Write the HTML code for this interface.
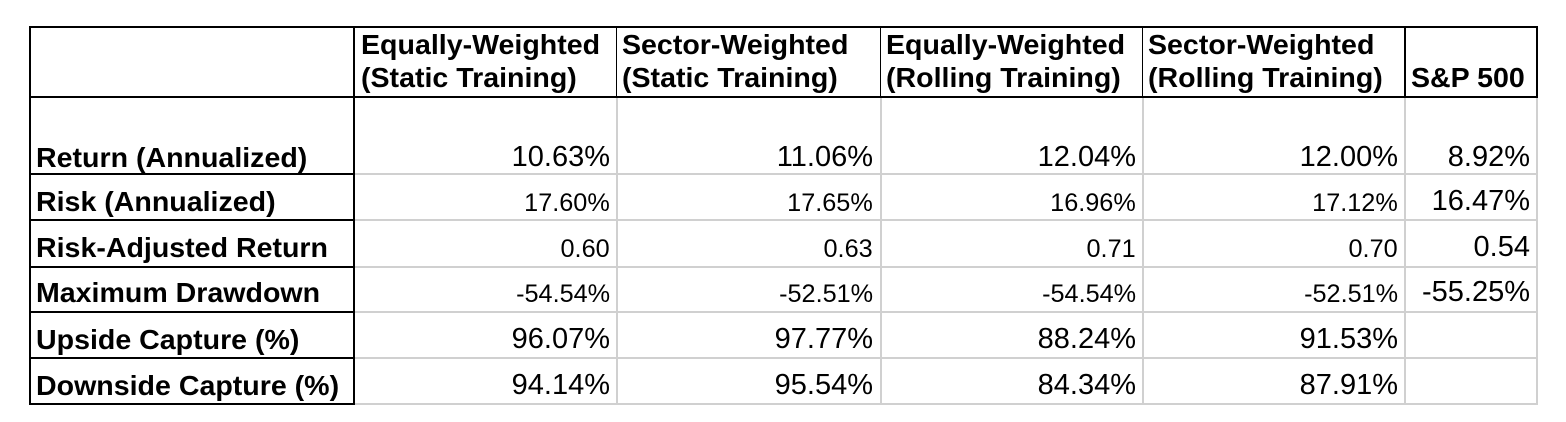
<!DOCTYPE html>
<html><head><style>
body{margin:0;background:#fff;width:1566px;height:422px;position:relative;overflow:hidden;font-family:"Liberation Sans",Arial,sans-serif;color:#000}
.h{position:absolute;background:#000}
.g{position:absolute;background:#d0d0d0}
.t{position:absolute;line-height:1;white-space:nowrap}
.b{font-weight:bold;transform:scaleX(1.02);transform-origin:left}
</style></head><body>
<div class="g" style="left:616px;top:97px;width:2px;height:308px"></div>
<div class="g" style="left:880px;top:97px;width:2px;height:308px"></div>
<div class="g" style="left:1142px;top:97px;width:2px;height:308px"></div>
<div class="g" style="left:1404px;top:97px;width:2px;height:308px"></div>
<div class="g" style="left:355px;top:173px;width:1183px;height:2px"></div>
<div class="g" style="left:355px;top:219px;width:1183px;height:2px"></div>
<div class="g" style="left:355px;top:266px;width:1183px;height:2px"></div>
<div class="g" style="left:355px;top:311px;width:1183px;height:2px"></div>
<div class="g" style="left:355px;top:357px;width:1183px;height:2px"></div>
<div class="g" style="left:355px;top:403px;width:1183px;height:2px"></div>
<div class="g" style="left:1536px;top:97px;width:2px;height:308px"></div>
<div class="h" style="left:29px;top:26px;width:1509px;height:2px"></div>
<div class="h" style="left:29px;top:96px;width:1509px;height:2px"></div>
<div class="h" style="left:29px;top:26px;width:2px;height:379px"></div>
<div class="h" style="left:353px;top:26px;width:2px;height:379px"></div>
<div class="h" style="left:616px;top:26px;width:1px;height:71px"></div>
<div class="h" style="left:880px;top:26px;width:1px;height:71px"></div>
<div class="h" style="left:1142px;top:26px;width:1px;height:71px"></div>
<div class="h" style="left:1404px;top:26px;width:2px;height:71px"></div>
<div class="h" style="left:1536px;top:26px;width:2px;height:71px"></div>
<div class="h" style="left:29px;top:173px;width:326px;height:2px"></div>
<div class="h" style="left:29px;top:219px;width:326px;height:2px"></div>
<div class="h" style="left:29px;top:266px;width:326px;height:2px"></div>
<div class="h" style="left:29px;top:311px;width:326px;height:2px"></div>
<div class="h" style="left:29px;top:357px;width:326px;height:2px"></div>
<div class="h" style="left:29px;top:403px;width:326px;height:2px"></div>
<div id="v"></div>
<script>
var h="";
function T(txt,left,base,fs,cls,right,sx){var top=base-0.8465*fs;
 if(right!==undefined){h+='<div class="t" style="right:'+(1566-right)+'px;top:'+top+'px;font-size:'+fs+'px;transform:scaleX('+sx+');transform-origin:right">'+txt+'</div>';}
 else h+='<div class="t b" style="left:'+left+'px;top:'+top+'px;font-size:'+fs+'px">'+txt+'</div>';}
[[361,"Equally-Weighted","(Static Training)"],[622,"Sector-Weighted","(Static Training)"],[886,"Equally-Weighted","(Rolling Training)"],[1148,"Sector-Weighted","(Rolling Training)"]].forEach(function(c){T(c[1],c[0],55,28);T(c[2],c[0],88,28);});
T("S&amp;P 500",1411,88,28);
var labels=["Return (Annualized)","Risk (Annualized)","Risk-Adjusted Return","Maximum Drawdown","Upside Capture (%)","Downside Capture (%)"];
var bases=[168,212,258,303,350,396];
labels.forEach(function(l,i){T(l,36,bases[i],28);});
var rows=[[["10.63%","11.06%","12.04%","12.00%","8.92%"],[1,1,1,1,1]],
[["17.60%","17.65%","16.96%","17.12%","16.47%"],[0,0,0,0,1]],
[["0.60","0.63","0.71","0.70","0.54"],[0,0,0,0,1]],
[["-54.54%","-52.51%","-54.54%","-52.51%","-55.25%"],[0,0,0,0,1]],
[["96.07%","97.77%","88.24%","91.53%",""],[1,1,1,1,1]],
[["94.14%","95.54%","84.34%","87.91%",""],[1,1,1,1,1]]];
var rights=[610,873,1136,1398,1530];
rows.forEach(function(r,j){r[0].forEach(function(v,i){var big=r[1][i];
 if(big)T(v,0,bases[j],29,"",rights[i],1.0);else T(v,0,bases[j],25,"",rights[i],1.01);});});
document.getElementById('v').innerHTML=h;
</script>
</body></html>
